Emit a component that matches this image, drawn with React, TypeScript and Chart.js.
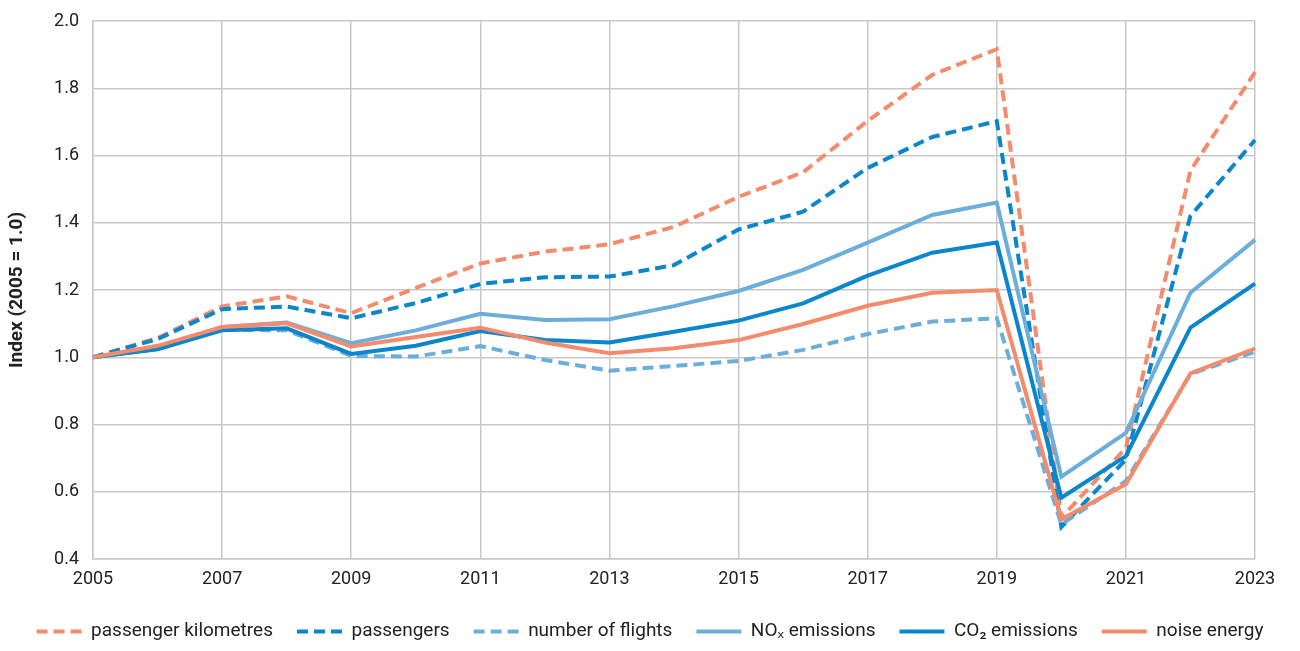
import React, { useEffect, useRef } from "react";
import { Chart, registerables } from "chart.js";

Chart.register(...registerables);

const years = [
  "2005", "2006", "2007", "2008", "2009", "2010", "2011", "2012", "2013", "2014",
  "2015", "2016", "2017", "2018", "2019", "2020", "2021", "2022", "2023",
];

const passengerKm = [1.0, 1.057, 1.151, 1.181, 1.131, 1.206, 1.279, 1.314, 1.336, 1.388, 1.477, 1.55, 1.703, 1.84, 1.916, 0.523, 0.73, 1.555, 1.848];
const passengers = [1.0, 1.054, 1.143, 1.151, 1.116, 1.161, 1.218, 1.238, 1.24, 1.274, 1.38, 1.433, 1.563, 1.655, 1.702, 0.495, 0.696, 1.42, 1.646];
const flights = [1.0, 1.025, 1.082, 1.08, 1.004, 1.002, 1.033, 0.992, 0.96, 0.974, 0.989, 1.022, 1.069, 1.106, 1.116, 0.503, 0.632, 0.95, 1.016];
const noxEmissions = [1.0, 1.025, 1.09, 1.103, 1.042, 1.08, 1.129, 1.111, 1.113, 1.152, 1.197, 1.26, 1.341, 1.423, 1.46, 0.645, 0.775, 1.192, 1.349];
const co2Emissions = [1.0, 1.024, 1.08, 1.086, 1.01, 1.034, 1.078, 1.051, 1.044, 1.076, 1.109, 1.16, 1.243, 1.311, 1.341, 0.582, 0.706, 1.088, 1.219];
const noiseEnergy = [1.0, 1.034, 1.09, 1.101, 1.032, 1.06, 1.088, 1.044, 1.012, 1.027, 1.051, 1.099, 1.153, 1.192, 1.2, 0.518, 0.622, 0.952, 1.026];

const seriesLabels = [
  "passenger kilometres",
  "passengers",
  "number of flights",
  "NOₓ emissions",
  "CO₂ emissions",
  "noise energy",
];

const ORANGE = "#F58B6D";
const BLUE = "#0A86CD";
const LIGHT_BLUE = "#6CAEDA";
const GRID = "#C8C8C8";
const TEXT = "#222222";
const FONT = "Roboto, 'Noto Sans', sans-serif";
const DASH = [11, 6];
const LINE_W = 4;

export default function App() {
  const canvasRef = useRef<HTMLCanvasElement | null>(null);

  useEffect(() => {
    document.body.style.margin = "0";
    const canvas = canvasRef.current;
    if (!canvas) return;
    const mk = (label: string, data: number[], color: string, dashed: boolean, order: number) => ({
      label,
      data,
      borderColor: color,
      backgroundColor: color,
      borderWidth: LINE_W,
      borderDash: dashed ? DASH : [],
      borderCapStyle: "butt" as const,
      borderJoinStyle: "miter" as const,
      pointRadius: 0,
      pointHoverRadius: 0,
      pointStyle: "line" as const,
      tension: 0,
      fill: false,
      order,
    });

    const chart = new Chart(canvas, {
      type: "line",
      data: {
        labels: years,
        datasets: [
          mk(seriesLabels[0], passengerKm, ORANGE, true, 6),
          mk(seriesLabels[1], passengers, BLUE, true, 5),
          mk(seriesLabels[2], flights, LIGHT_BLUE, true, 4),
          mk(seriesLabels[3], noxEmissions, LIGHT_BLUE, false, 3),
          mk(seriesLabels[4], co2Emissions, BLUE, false, 2),
          mk(seriesLabels[5], noiseEnergy, ORANGE, false, 1),
        ],
      },
      options: {
        animation: false,
        responsive: false,
        maintainAspectRatio: false,
        layout: { padding: { top: 0, right: 0, left: 0, bottom: 0 } },
        plugins: {
          tooltip: { enabled: false },
          legend: {
            position: "bottom",
            labels: {
              usePointStyle: true,
              pointStyle: "line",
              pointStyleWidth: 45,
              boxHeight: 19,
              padding: 24,
              color: TEXT,
              font: { family: FONT, size: 19 },
              sort: (a: any, b: any) => a.datasetIndex - b.datasetIndex,
              generateLabels: (ch: any) => {
                const items = (Chart as any).defaults.plugins.legend.labels.generateLabels(ch);
                items.forEach((it: any) => {
                  const ds = ch.data.datasets[it.datasetIndex];
                  it.lineDash = ds.borderDash;
                  it.lineWidth = LINE_W;
                  it.strokeStyle = ds.borderColor;
                  it.fillStyle = ds.borderColor;
                  it.lineCap = "butt";
                  it.pointStyle = "line";
                  it.fontColor = TEXT;
                });
                return items;
              },
            },
          },
        },
        scales: {
          x: {
            type: "category",
            offset: false,
            grid: {
              color: (ctx: any) => (ctx.index % 2 === 0 ? GRID : "rgba(0,0,0,0)"),
              lineWidth: 1.5,
              drawTicks: false,
            },
            border: { color: GRID, width: 1.5 },
            ticks: {
              autoSkip: false,
              maxRotation: 0,
              padding: 10,
              color: TEXT,
              font: { family: FONT, size: 18 },
              callback: (_v: any, i: number) => (i % 2 === 0 ? years[i] : ""),
            },
            afterFit: (scale: any) => {
              scale.height = 39;
            },
          },
          y: {
            min: 0.4,
            max: 2.0,
            grid: { color: GRID, lineWidth: 1.5, drawTicks: false },
            border: { color: GRID, width: 1.5 },
            ticks: {
              stepSize: 0.2,
              padding: 14,
              color: TEXT,
              font: { family: FONT, size: 18 },
              callback: (v: any) => Number(v).toFixed(1),
            },
            title: {
              display: true,
              text: "Index (2005 = 1.0)",
              color: TEXT,
              font: { family: FONT, size: 19, weight: "bold" },
              padding: { top: 6, bottom: 0 },
            },
            afterFit: (scale: any) => {
              scale.width = 93;
              scale.paddingTop = 21;
              scale.paddingBottom = 0;
            },
          },
          yRight: {
            position: "right",
            display: true,
            grid: { display: false, drawTicks: false },
            border: { display: false },
            ticks: { display: false },
            afterFit: (scale: any) => {
              scale.width = 45;
              scale.paddingTop = 0;
              scale.paddingBottom = 0;
            },
          },
        },
      },
    });
    return () => chart.destroy();
  }, []);

  return (
    <div style={{ width: 1300, height: 651 }}>
      <canvas ref={canvasRef} width={1300} height={651} style={{ display: "block", width: 1300, height: 651 }} />
    </div>
  );
}
